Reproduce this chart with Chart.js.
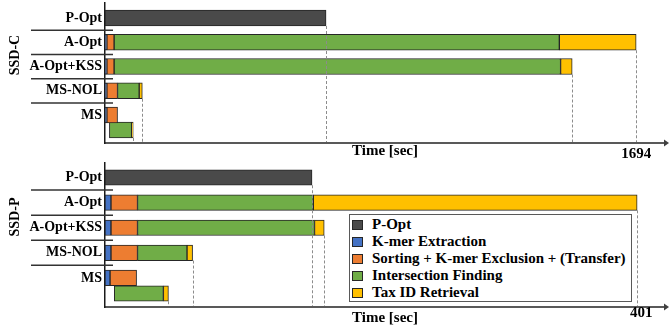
<!DOCTYPE html>
<html>
<head>
<meta charset="utf-8">
<script src="https://cdn.jsdelivr.net/npm/chart.js@4.4.1/dist/chart.umd.min.js"></script>
<style>
  body { margin: 0; background: #fff; }
  #wrap { position: relative; width: 669px; height: 327px; }
  canvas { position: absolute; left: 0; }
  #cTop { top: 0; }
  #cBot { top: 160px; }
  #legend {
    position: absolute; left: 349px; top: 214px; width: 283px; height: 88px;
    box-sizing: border-box; border: 1.5px solid #595959; background: #fff;
    padding-top: 1px; font: bold 15px "Liberation Serif", serif; color: #000;
  }
  #legend .item { display: flex; align-items: center; height: 17.1px; white-space: nowrap; }
  #legend .sw { width: 11px; height: 10px; box-sizing: border-box; border: 1px solid #262626; margin: 0 9px 0 2px; }
</style>
</head>
<body>
<div id="wrap">
  <canvas id="cTop" width="669" height="160"></canvas>
  <canvas id="cBot" width="669" height="167"></canvas>
  <div id="legend"></div>
</div>
<script>
const rows = ['P-Opt', 'A-Opt', 'A-Opt+KSS', 'MS-NOL', 'MS'];
const stages = ['P-Opt', 'K-mer Extraction', 'Sorting + K-mer Exclusion + (Transfer)', 'Intersection Finding', 'Tax ID Retrieval'];
const stageColors = ['#4a4a4a', '#4472c4', '#ed7d31', '#70ad47', '#ffc000'];

// SSD-C, seconds spent in each stage (one value per row)
const ssdcPOpt = [705, 0, 0, 0, 0];
const ssdcKmer = [0, 6, 6, 6, 6];
const ssdcSort = [0, 23, 23, 34, 34];
const ssdcInter = [0, 1420, 1424, 69, 71];
const ssdcTax = [0, 245, 37, 10, 5];
const ssdcMsInterStart = 14; // MS: intersection overlaps sorting
const ssdcTicks = [1694];

// SSD-P
const ssdpPOpt = [156, 0, 0, 0, 0];
const ssdpKmer = [0, 4.5, 4.5, 4.5, 3.8];
const ssdpSort = [0, 20, 20, 20, 20];
const ssdpInter = [0, 132.5, 133.4, 37.3, 37];
const ssdpTax = [0, 244, 7.3, 4.2, 3.8];
const ssdpMsInterStart = 7;
const ssdpTicks = [401];

const FONT = '"Liberation Serif", serif';
const LANE = 0.62; // second lane of the MS row

function build(stageVals, msStart) {
  const sets = stages.map((s, k) => ({
    label: s,
    data: [],
    backgroundColor: stageColors[k],
    borderColor: '#262626',
    borderWidth: 1,
    borderSkipped: false,
    grouped: false
  }));
  const ends = [];
  rows.forEach((r, i) => {
    let t = 0, y = i;
    stageVals.forEach((arr, k) => {
      const d = arr[i];
      if (!d) return;
      if (k === 3 && r === 'MS') { t = msStart; y = i + LANE; }
      sets[k].data.push({ x: [t, t + d], y: y });
      t += d;
    });
    ends.push({ x: t, y: y });
  });
  return { sets, ends };
}

const deco = {
  id: 'deco',
  afterDraw(chart, args, o) {
    const { ctx, chartArea: a, scales: { x, y } } = chart;
    ctx.save();
    ctx.strokeStyle = '#8c8c8c';
    ctx.lineWidth = 1;
    ctx.setLineDash([3, 2]);
    o.ends.forEach(e => {
      const px = Math.round(x.getPixelForValue(e.x)) + 0.5;
      const py = y.getPixelForValue(e.y) + o.thick / 2;
      ctx.beginPath(); ctx.moveTo(px, py); ctx.lineTo(px, a.bottom - 1); ctx.stroke();
    });
    ctx.setLineDash([]);
    ctx.strokeStyle = '#333';
    ctx.lineWidth = 1.5;
    for (let i = 0; i < rows.length - 1; i++) {
      const py = y.getPixelForValue(i + 0.5);
      ctx.beginPath(); ctx.moveTo(31, py); ctx.lineTo(a.left + 8, py); ctx.stroke();
    }
    ctx.fillStyle = '#404040';
    ctx.beginPath();
    ctx.moveTo(a.right - 1, a.bottom - 3.5);
    ctx.lineTo(chart.width, a.bottom);
    ctx.lineTo(a.right - 1, a.bottom + 3.5);
    ctx.fill();
    ctx.translate(15, o.labelY);
    ctx.rotate(-Math.PI / 2);
    ctx.font = 'bold 14px ' + FONT;
    ctx.fillStyle = '#000';
    ctx.textAlign = 'center';
    ctx.textBaseline = 'middle';
    ctx.fillText(o.label, 0, 0);
    ctx.restore();
  }
};

function makeChart(id, built, cfg) {
  return new Chart(document.getElementById(id), {
    type: 'bar',
    data: { datasets: built.sets },
    plugins: [deco],
    options: {
      indexAxis: 'y',
      responsive: false,
      animation: false,
      devicePixelRatio: 1,
      datasets: { bar: { barThickness: cfg.thick } },
      layout: { padding: { top: 3, right: 4, left: 0, bottom: 0 } },
      plugins: {
        legend: { display: false },
        tooltip: { enabled: false },
        deco: { ends: built.ends, thick: cfg.thick, label: cfg.label, labelY: cfg.labelY }
      },
      scales: {
        x: {
          type: 'linear', min: 0, max: cfg.xMax, offset: false,
          afterBuildTicks: s => { s.ticks = cfg.ticks.map(v => ({ value: v })); },
          afterFit: s => { s.height = cfg.xH; s.paddingLeft = 0; s.paddingRight = 0; },
          grid: { display: false, drawTicks: false },
          border: { display: true, color: '#595959', width: 2 },
          ticks: { padding: cfg.tickPad, labelOffset: cfg.labelOffset, autoSkip: false, maxRotation: 0, color: '#000', callback: v => String(v), font: { family: FONT, size: 15, weight: 'bold' } },
          title: { display: true, text: 'Time [sec]', color: '#000', padding: 0, font: { family: FONT, size: 15, weight: 'bold' } }
        },
        y: {
          type: 'linear', reverse: true, min: cfg.yMin, max: cfg.yMax, offset: false,
          afterBuildTicks: s => { s.ticks = rows.map((r, i) => ({ value: i })); },
          afterFit: s => { s.width = 105; s.paddingTop = 0; s.paddingBottom = 0; },
          grid: { display: false, drawTicks: false, offset: false },
          border: { display: true, color: '#1a1a1a', width: 1.5 },
          ticks: { padding: 3, autoSkip: false, color: '#000', callback: v => rows[v], font: { family: FONT, size: 14, weight: 'bold' } }
        }
      }
    }
  });
}

const topChart = makeChart('cTop', build([ssdcPOpt, ssdcKmer, ssdcSort, ssdcInter, ssdcTax], ssdcMsInterStart), {
  thick: 16, label: 'SSD-C', labelY: 55, xMax: 1786, ticks: ssdcTicks, xH: 17, tickPad: 2, labelOffset: 0,
  yMin: -0.62, yMax: 5.155
});
makeChart('cBot', build([ssdpPOpt, ssdpKmer, ssdpSort, ssdpInter, ssdpTax], ssdpMsInterStart), {
  thick: 15.5, label: 'SSD-P', labelY: 57, xMax: 422, ticks: ssdpTicks, xH: 20, tickPad: -3, labelOffset: 4,
  yMin: -0.578, yMax: 5.159
});

// legend built from the chart's datasets
const leg = document.getElementById('legend');
topChart.data.datasets.forEach(ds => {
  const it = document.createElement('div');
  it.className = 'item';
  const sw = document.createElement('span');
  sw.className = 'sw';
  sw.style.background = ds.backgroundColor;
  const tx = document.createElement('span');
  tx.textContent = ds.label;
  it.appendChild(sw);
  it.appendChild(tx);
  leg.appendChild(it);
});
</script>
</body>
</html>
